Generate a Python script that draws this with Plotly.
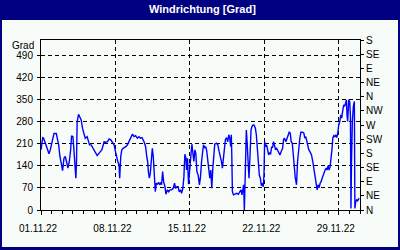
import plotly.graph_objects as go
import pandas as pd

# ---- data (day offset from 01.11.2022, wind direction in degrees) ----
start_date = "2022-11-01"
day_offsets = [
    0, 0.16, 0.25, 0.34, 0.5, 0.66, 0.75, 0.875, 0.97, 1.125, 1.22, 1.44, 1.53, 1.66, 1.78, 1.9,
    2.03, 2.16, 2.28, 2.4, 2.53, 2.66, 2.78, 2.875, 3.0, 3.06, 3.16, 3.28, 3.34, 3.4, 3.53, 3.66,
    3.78, 3.9, 4.03, 4.16, 4.34, 4.56, 4.72, 4.97, 5.16, 5.28, 5.53, 5.72,
    5.94, 6.09, 6.25, 6.41, 6.56, 6.72, 6.875, 6.97, 7.1, 7.22, 7.34, 7.4, 7.5, 7.6, 7.72, 7.84,
    7.97, 8.13, 8.28, 8.44, 8.6, 8.75, 8.9, 9.06, 9.22, 9.34, 9.5, 9.69, 9.84, 9.94, 10.03, 10.1,
    10.19, 10.28, 10.38, 10.47, 10.56, 10.69, 10.75, 10.84, 10.94, 11.06, 11.16, 11.28, 11.34,
    11.44, 11.53, 11.66, 11.75, 11.87,
    12.0, 12.13, 12.28, 12.44, 12.56, 12.66, 12.78, 12.9, 13.0, 13.13, 13.22, 13.34, 13.44, 13.53,
    13.63, 13.69, 13.78, 13.875, 14.0, 14.1, 14.19, 14.28, 14.375, 14.47, 14.56, 14.66, 14.78,
    14.9, 15.0, 15.1, 15.19, 15.28, 15.4, 15.5, 15.59, 15.69, 15.78, 15.875, 15.97, 16.06, 16.16,
    16.25, 16.34, 16.5, 16.63, 16.75, 16.875, 16.97, 17.06, 17.16, 17.25, 17.34, 17.44, 17.56,
    17.66, 17.75, 17.84, 17.9, 17.94,
    18.0, 18.1, 18.25, 18.41, 18.56, 18.72, 18.81, 18.9, 19.0, 19.06, 19.125, 19.19, 19.25, 19.31,
    19.38, 19.47, 19.56, 19.66, 19.75, 19.84, 19.94, 20.03, 20.16, 20.25, 20.34, 20.44, 20.53,
    20.63, 20.72, 20.81, 20.9, 20.97, 21.03, 21.125, 21.22, 21.31, 21.41, 21.5, 21.59, 21.69,
    21.78, 21.875, 21.97, 22.06, 22.16, 22.25, 22.34, 22.47, 22.59, 22.72, 22.81, 22.9, 23.03,
    23.16, 23.25, 23.34, 23.44, 23.53, 23.63, 23.72, 23.81, 23.9,
    24.03, 24.13, 24.22, 24.28, 24.34, 24.44, 24.6, 24.72, 24.81, 24.9, 25.0, 25.09, 25.19, 25.28,
    25.44, 25.56, 25.69, 25.78, 25.875, 25.97, 26.06, 26.16, 26.25, 26.34, 26.44, 26.53, 26.625,
    26.72, 26.81, 26.9, 27.0, 27.09, 27.19, 27.28, 27.375, 27.44, 27.53, 27.63, 27.72, 27.81,
    27.9, 28.0, 28.1, 28.19, 28.28, 28.375, 28.47, 28.56, 28.66, 28.72, 28.78, 28.84, 28.94,
    29.03, 29.1, 29.15, 29.2, 29.28, 29.38, 29.47, 29.52, 29.6, 29.69, 29.78, 29.87, 29.94,
]
direction_deg = [
    191, 230, 228, 219, 209, 194, 179, 191, 209, 230, 243, 243, 230, 207, 170, 146,
    125, 164, 170, 154, 133, 154, 188, 236, 233, 207, 138, 101, 154, 281, 304, 296,
    286, 260, 247, 228, 233, 207, 207, 191, 177, 173, 183, 191,
    217, 215, 217, 226, 223, 215, 207, 191, 164, 154, 143, 101, 170, 191, 196, 198,
    201, 207, 217, 228, 241, 233, 236, 228, 233, 228, 230, 217, 201, 170, 154, 122,
    101, 117, 159, 196, 170, 111, 58, 85, 82, 88, 80, 88, 80,
    122, 90, 74, 50, 64,
    58, 64, 64, 69, 85, 69, 74, 74, 58, 64, 53, 69, 106, 177,
    164, 127, 164, 82, 122, 175, 209, 186, 154, 191, 180, 122, 111,
    80, 106, 154, 186, 207, 198, 201, 186, 154, 138, 101, 127, 69, 133,
    180, 209, 212, 207, 186, 170, 154, 133, 175, 207, 223, 230, 217,
    239, 228, 201, 239, 180,
    58, 48, 50, 53, 50, 58, 64, 48, 74, 80, 0, 101, 186, 254,
    217, 154, 101, 175, 254, 265, 270, 270, 260, 239, 207, 154, 111,
    101, 77, 85, 74, 111, 217, 201, 207, 186, 175, 183, 177, 201,
    198, 217, 207, 191, 196, 188, 186, 175, 186, 196, 223, 228, 217,
    228, 241, 247, 244, 217, 212, 186, 143, 106,
    80, 154, 201, 207, 228, 247, 247, 244, 228, 233, 217, 207, 191, 186,
    175, 154, 122, 111, 85, 64, 80, 71, 85, 90, 101, 111, 117,
    127, 133, 127, 141, 127, 138, 159, 196, 228, 236, 233, 239, 230,
    241, 270, 281, 302, 292, 315, 334, 329, 345, 350, 302, 281, 350,
    345, 300, 5, 150, 281, 330, 345, 5, 27, 32, 29, 35, 37,
]

left_ticks = [0, 70, 140, 210, 280, 350, 420, 490]
right_ticks = [0, 45, 90, 135, 180, 225, 270, 315, 360, 405, 450, 495, 540]
right_labels = ["N", "NE", "E", "SE", "S", "SW", "W", "NW", "N", "NE", "E", "SE", "S"]
x_ticks = ["2022-11-01", "2022-11-08", "2022-11-15", "2022-11-22", "2022-11-29"]
x_range = ["2022-11-01", "2022-12-01"]
y_range = [0, 540]

times = pd.to_datetime(start_date) + pd.to_timedelta(day_offsets, unit="D")

W, H = 400, 250
ML, MR, MT, MB = 41, 40, 40, 40
PW, PH = W - ML - MR, H - MT - MB
NAVY = "#000080"
BG = "#F8FCF8"
FONT = "Liberation Sans, Arial, sans-serif"


def px(x):
    return (x - ML) / PW


def py(y):
    return (H - MB - y) / PH


fig = go.Figure()
fig.add_trace(go.Scatter(x=times, y=direction_deg, mode="lines",
                         line=dict(color="#0000FF", width=1.4), hoverinfo="skip",
                         showlegend=False))
# invisible trace to activate the right (compass) axis
fig.add_trace(go.Scatter(x=times, y=direction_deg, mode="lines", yaxis="y2",
                         line=dict(color="rgba(0,0,0,0)", width=0), hoverinfo="skip",
                         showlegend=False))

shapes = [
    dict(type="rect", xref="paper", yref="paper", x0=px(0), x1=px(W), y0=py(0), y1=py(20),
         fillcolor=NAVY, line=dict(width=0), layer="above"),
    dict(type="rect", xref="paper", yref="paper", x0=px(0), x1=px(2), y0=py(0), y1=py(H),
         fillcolor=NAVY, line=dict(width=0), layer="above"),
    dict(type="rect", xref="paper", yref="paper", x0=px(W - 2), x1=px(W), y0=py(0), y1=py(H),
         fillcolor=NAVY, line=dict(width=0), layer="above"),
    dict(type="rect", xref="paper", yref="paper", x0=px(0), x1=px(W), y0=py(H - 3), y1=py(H),
         fillcolor=NAVY, line=dict(width=0), layer="above"),
]

fig.update_layout(
    width=W, height=H,
    margin=dict(l=ML, r=MR, t=MT, b=MB, pad=0),
    paper_bgcolor=BG, plot_bgcolor=BG,
    font=dict(family=FONT, size=10, color="black"),
    showlegend=False,
    shapes=shapes,
    xaxis=dict(
        type="date", range=x_range, tickvals=x_ticks, tickformat="%d.%m.%y",
        showgrid=True, gridcolor="black", griddash="4px,3px", gridwidth=1,
        showline=True, linecolor="black", linewidth=1, mirror=True,
        ticks="outside", ticklen=4, tickcolor="black",
        ticklabelstandoff=5, ticklabelshift=-3,
        minor=dict(dtick=86400000, ticks="outside", ticklen=3, tickcolor="black", showgrid=False),
        zeroline=False, fixedrange=True,
        tickfont=dict(family=FONT, size=10, color="black"),
    ),
    yaxis=dict(
        range=y_range, tickvals=left_ticks,
        showgrid=True, gridcolor="black", griddash="4px,3px", gridwidth=1,
        showline=True, linecolor="black", linewidth=1,
        ticks="outside", ticklen=3, tickcolor="black", ticklabelstandoff=2,
        zeroline=False, fixedrange=True,
        tickfont=dict(family=FONT, size=10, color="black"),
    ),
    yaxis2=dict(
        range=y_range, tickvals=right_ticks, ticktext=right_labels,
        overlaying="y", side="right", showgrid=False,
        showline=True, linecolor="black", linewidth=1,
        ticks="outside", ticklen=3, tickcolor="black",
        zeroline=False, fixedrange=True,
        tickfont=dict(family=FONT, size=10, color="black"),
    ),
    annotations=[
        dict(text="<b>Windrichtung [Grad]</b>", xref="paper", yref="paper",
             x=px(202), y=py(9), xanchor="center", yanchor="middle", showarrow=False,
             font=dict(family=FONT, size=11, color="white")),
        dict(text="Grad", xref="paper", yref="paper", x=px(36), y=py(45),
             xanchor="right", yanchor="middle", showarrow=False,
             font=dict(family=FONT, size=10, color="black")),
    ],
)

fig.write_html("out.html")
